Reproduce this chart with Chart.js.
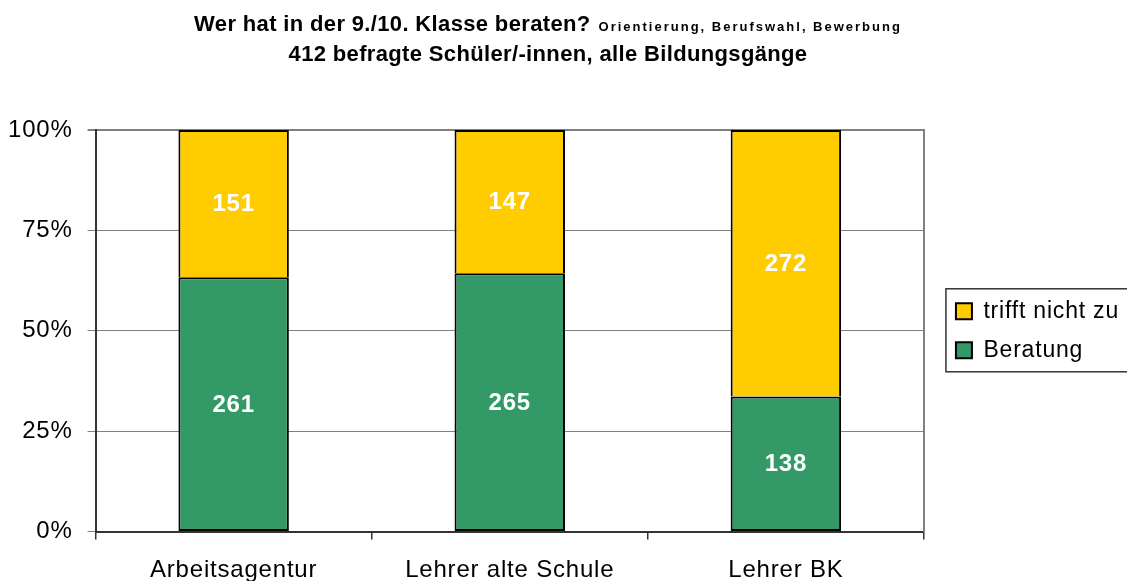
<!DOCTYPE html>
<html lang="de">
<head>
  <meta charset="UTF-8" />
  <title>Wer hat in der 9./10. Klasse beraten?</title>
  <script src="https://cdn.jsdelivr.net/npm/chart.js"></script>
  <style>
    html, body { margin: 0; padding: 0; background: #fff; }
    canvas { display: block; }
  </style>
</head>
<body>
  <canvas id="chart" width="1127" height="581"></canvas>

  <script>
    // data
    const categories = ["Arbeitsagentur", "Lehrer alte Schule", "Lehrer BK"];
    const beratung = [261, 265, 138];
    const trifftNicht = [151, 147, 272];
    const yTicks = [0, 25, 50, 75, 100];

    const titleMain = "Wer hat in der 9./10. Klasse beraten?";
    const titleSub = "Orientierung, Berufswahl, Bewerbung";
    const titleLine2 = "412 befragte Schüler/-innen, alle Bildungsgänge";

    const totals = categories.map((_, i) => beratung[i] + trifftNicht[i]);
    const pct = arr => arr.map((v, i) => v / totals[i] * 100);

    Chart.defaults.font.family = "Arial, 'Liberation Sans', sans-serif";
    Chart.defaults.color = "#000";

    // old Excel text is a bit wider, give it some letter spacing
    const spacing = {
      id: "spacing",
      beforeUpdate(c) { c.ctx.letterSpacing = "0.8px"; },
      beforeDraw(c) { c.ctx.letterSpacing = "0.8px"; }
    };

    // counts inside the segments
    const barLabels = {
      id: "barLabels",
      afterDatasetsDraw(c) {
        const ctx = c.ctx;
        ctx.save();
        ctx.font = "bold 24px Arial, 'Liberation Sans', sans-serif";
        ctx.fillStyle = "#fff";
        ctx.textAlign = "center";
        ctx.textBaseline = "middle";
        c.data.datasets.forEach((ds, di) => {
          c.getDatasetMeta(di).data.forEach((el, i) => {
            const p = el.getProps(["x", "y", "base"], true);
            ctx.fillText(String(ds.counts[i]), p.x, (p.y + p.base) / 2 + 1);
          });
        });
        ctx.restore();
      }
    };

    // title with the small subtitle on the first line
    const titlePlugin = {
      id: "titlePlugin",
      afterDraw(c) {
        const ctx = c.ctx;
        const cx = 548;
        ctx.save();
        ctx.fillStyle = "#000";
        ctx.textBaseline = "alphabetic";
        ctx.textAlign = "left";
        ctx.font = "bold 22px Arial, 'Liberation Sans', sans-serif";
        ctx.letterSpacing = "0.35px";
        const w1 = ctx.measureText(titleMain).width;
        ctx.font = "bold 13px Arial, 'Liberation Sans', sans-serif";
        ctx.letterSpacing = "2px";
        const w2 = ctx.measureText(titleSub).width;
        const gap = 8;
        const x0 = cx - (w1 + gap + w2) / 2;
        ctx.font = "bold 22px Arial, 'Liberation Sans', sans-serif";
        ctx.letterSpacing = "0.35px";
        ctx.fillText(titleMain, x0, 31);
        ctx.font = "bold 13px Arial, 'Liberation Sans', sans-serif";
        ctx.letterSpacing = "2px";
        ctx.fillText(titleSub, x0 + w1 + gap, 31);
        ctx.font = "bold 22px Arial, 'Liberation Sans', sans-serif";
        ctx.letterSpacing = "0.35px";
        ctx.textAlign = "center";
        ctx.fillText(titleLine2, cx, 61);
        ctx.restore();
      }
    };

    // frame round the legend
    const legendBox = {
      id: "legendBox",
      afterDraw(c) {
        const hits = c.legend && c.legend.legendHitBoxes;
        if (!hits || !hits.length) return;
        const left = Math.min(...hits.map(h => h.left)) - 10;
        const top = Math.min(...hits.map(h => h.top)) - 11;
        const bottom = Math.max(...hits.map(h => h.top + h.height)) + 10;
        const ctx = c.ctx;
        ctx.save();
        ctx.strokeStyle = "#333";
        ctx.lineWidth = 1.5;
        ctx.strokeRect(left, top, c.width - left + 20, bottom - top);
        ctx.restore();
      }
    };

    new Chart(document.getElementById("chart"), {
      type: "bar",
      data: {
        labels: categories,
        datasets: [
          {
            label: "Beratung",
            data: pct(beratung),
            counts: beratung,
            backgroundColor: "#339966",
            borderColor: "#000",
            borderWidth: 2,
            borderSkipped: false
          },
          {
            label: "trifft nicht zu",
            data: pct(trifftNicht),
            counts: trifftNicht,
            backgroundColor: "#FFCC00",
            borderColor: "#000",
            borderWidth: 2,
            borderSkipped: "bottom"
          }
        ]
      },
      options: {
        responsive: false,
        animation: false,
        layout: { padding: { top: 130, left: -7, right: -2, bottom: -21 } },
        datasets: { bar: { barPercentage: 0.4, categoryPercentage: 1 } },
        scales: {
          x: {
            stacked: true,
            offset: true,
            grid: { offset: true, drawOnChartArea: false, tickLength: 8, color: "#333", lineWidth: 1.5 },
            border: { color: "#333", width: 2 },
            ticks: { font: { size: 24, lineHeight: 1.1 }, padding: 18, color: "#000" }
          },
          y: {
            stacked: true,
            min: 0,
            max: 100,
            afterBuildTicks: s => { s.ticks = yTicks.map(v => ({ value: v })); },
            grid: {
              color: "#808080",
              lineWidth: ctx => (ctx.tick && ctx.tick.value === 100 ? 2 : 1),
              tickLength: 8
            },
            border: { color: "#333", width: 2 },
            ticks: { font: { size: 24, lineHeight: 1.1 }, padding: 15, color: "#000", callback: v => v + "%" }
          },
          yRight: {
            position: "right",
            min: 0,
            max: 100,
            grid: { drawOnChartArea: false, tickLength: 16, color: "rgba(0,0,0,0)" },
            border: { color: "#808080", width: 2 },
            ticks: { display: false }
          }
        },
        plugins: {
          legend: {
            position: "right",
            fullSize: false,
            reverse: true,
            labels: {
              boxWidth: 16,
              boxHeight: 16,
              padding: 16,
              color: "#000",
              font: { size: 23 }
            }
          },
          title: { display: false },
          tooltip: { enabled: false }
        }
      },
      plugins: [spacing, barLabels, titlePlugin, legendBox]
    });
  </script>
</body>
</html>
